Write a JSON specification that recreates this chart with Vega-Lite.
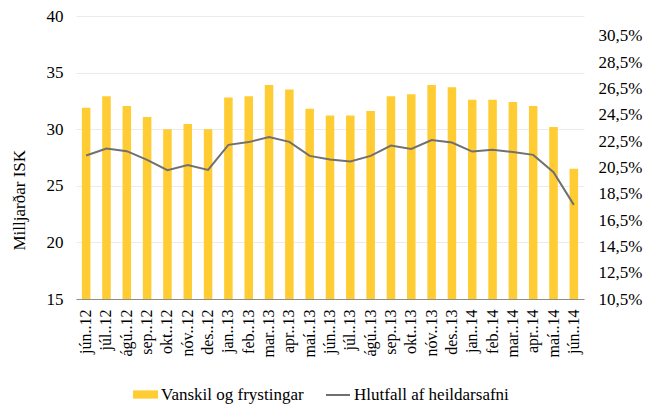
{
  "$schema": "https://vega.github.io/schema/vega-lite/v6.json",
  "width": 508,
  "height": 283,
  "autosize": {"type": "none"},
  "padding": {"left": 76, "top": 16, "right": 67, "bottom": 106},
  "background": "white",
  "config": {
    "view": {"stroke": null},
    "font": "Liberation Serif",
    "axis": {"labelFont": "Liberation Serif", "titleFont": "Liberation Serif", "labelColor": "#000", "titleColor": "#000"},
    "legend": {"labelFont": "Liberation Serif", "labelColor": "#000"}
  },
  "data": {
    "values": [
      {"m": "jún..12", "v": 31.9, "h": 21.4},
      {"m": "júl..12", "v": 32.9, "h": 21.93},
      {"m": "ágú..12", "v": 32.05, "h": 21.73},
      {"m": "sep..12", "v": 31.08, "h": 21.07},
      {"m": "okt..12", "v": 30.0, "h": 20.29},
      {"m": "nóv..12", "v": 30.46, "h": 20.67},
      {"m": "des..12", "v": 30.0, "h": 20.31},
      {"m": "jan..13", "v": 32.8, "h": 22.21},
      {"m": "feb..13", "v": 32.9, "h": 22.42},
      {"m": "mar..13", "v": 33.9, "h": 22.8},
      {"m": "apr..13", "v": 33.5, "h": 22.44},
      {"m": "maí..13", "v": 31.8, "h": 21.37},
      {"m": "jún..13", "v": 31.2, "h": 21.1},
      {"m": "júl..13", "v": 31.2, "h": 20.94},
      {"m": "ágú..13", "v": 31.6, "h": 21.37},
      {"m": "sep..13", "v": 32.9, "h": 22.16},
      {"m": "okt..13", "v": 33.08, "h": 21.9},
      {"m": "nóv..13", "v": 33.9, "h": 22.57},
      {"m": "des..13", "v": 33.7, "h": 22.39},
      {"m": "jan..14", "v": 32.6, "h": 21.7},
      {"m": "feb..14", "v": 32.6, "h": 21.83},
      {"m": "mar..14", "v": 32.4, "h": 21.66},
      {"m": "apr..14", "v": 32.05, "h": 21.45},
      {"m": "maí..14", "v": 30.2, "h": 20.13},
      {"m": "jún..14", "v": 26.5, "h": 17.65}
    ]
  },
  "encoding": {
    "x": {
      "field": "m",
      "type": "nominal",
      "sort": null,
      "scale": {"paddingInner": 0.58, "paddingOuter": 0.29},
      "axis": {
        "title": null,
        "labelAngle": -90,
        "labelFont": "Liberation Serif",
        "labelFontSize": 16,
        "labelPadding": 10,
        "ticks": false,
        "domainColor": "#8c8c8c",
        "domainWidth": 1,
        "grid": false
      }
    }
  },
  "layer": [
    {
      "mark": {"type": "bar", "color": "#FFCD33", "clip": true},
      "encoding": {
        "y": {
          "field": "v",
          "type": "quantitative",
          "scale": {"domain": [15, 40], "zero": false},
          "axis": {
            "title": "Milljarðar ISK",
            "titleFont": "Liberation Serif",
            "titleFontSize": 17,
            "titleFontWeight": "normal",
            "titleX": -48,
            "titleY": 234,
            "titleAngle": -90,
            "titleAlign": "left",
            "titleBaseline": "bottom",
            "labelFont": "Liberation Serif",
            "labelFontSize": 17,
            "labelPadding": 13,
            "values": [15, 20, 25, 30, 35, 40],
            "ticks": false,
            "domain": false,
            "grid": true,
            "gridColor": "#EBEBEB",
            "gridWidth": 1
          }
        },
        "y2": {"datum": 15},
        "color": {
          "datum": "Vanskil og frystingar",
          "type": "nominal",
          "scale": {"range": ["#FFCD33"]},
          "legend": {
            "title": null,
            "orient": "none",
            "legendX": 57,
            "legendY": 366,
            "symbolType": "M-1,-0.33H1V0.33H-1Z",
            "symbolSize": 625,
            "symbolStrokeWidth": 0,
            "symbolStrokeColor": "transparent",
            "labelFont": "Liberation Serif",
            "labelFontSize": 17,
            "labelOffset": 3
          }
        }
      }
    },
    {
      "mark": {"type": "line", "strokeWidth": 2},
      "encoding": {
        "y": {
          "field": "h",
          "type": "quantitative",
          "scale": {"domain": [10.5, 32], "zero": false},
          "axis": {
            "orient": "right",
            "title": null,
            "labelFont": "Liberation Serif",
            "labelFontSize": 17,
            "labelPadding": 14,
            "values": [10.5, 12.5, 14.5, 16.5, 18.5, 20.5, 22.5, 24.5, 26.5, 28.5, 30.5],
            "labelExpr": "replace(format(datum.value, '.1f'), '.', ',') + '%'",
            "ticks": false,
            "domain": false,
            "grid": false
          }
        },
        "stroke": {
          "datum": "Hlutfall af heildarsafni",
          "type": "nominal",
          "scale": {"range": ["#707070"]},
          "legend": {
            "title": null,
            "orient": "none",
            "legendX": 249,
            "legendY": 366,
            "symbolType": "stroke",
            "symbolSize": 576,
            "symbolStrokeWidth": 2,
            "labelFont": "Liberation Serif",
            "labelFontSize": 17,
            "labelOffset": 3
          }
        }
      }
    }
  ],
  "resolve": {"scale": {"y": "independent"}}
}
